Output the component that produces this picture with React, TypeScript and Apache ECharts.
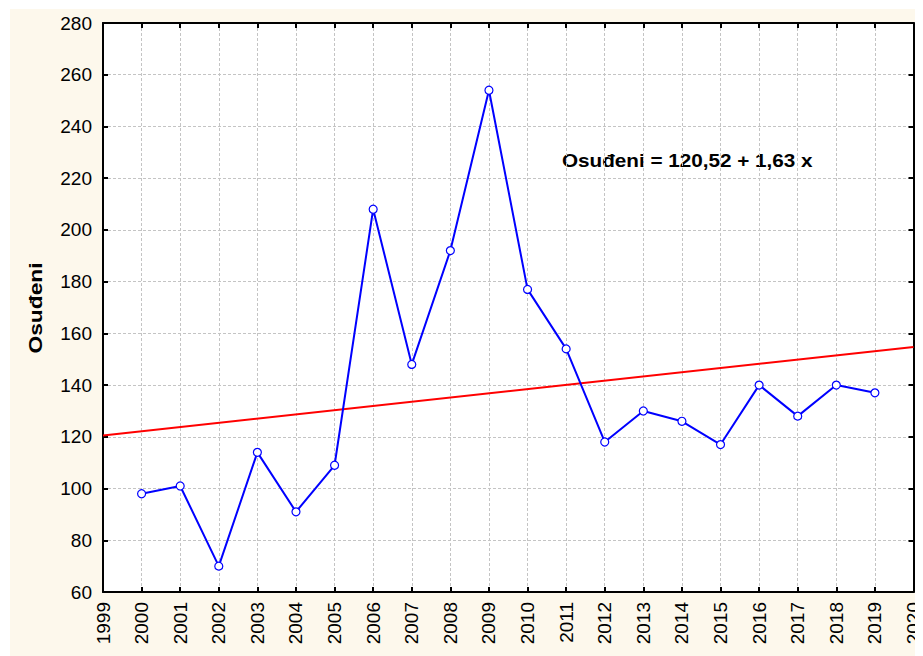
import React, { useEffect, useRef } from "react";
import * as echarts from "echarts";

const years = [2000, 2001, 2002, 2003, 2004, 2005, 2006, 2007, 2008, 2009, 2010, 2011, 2012, 2013, 2014, 2015, 2016, 2017, 2018, 2019];
const osudeni = [98, 101, 70, 114, 91, 109, 208, 148, 192, 254, 177, 154, 118, 130, 126, 117, 140, 128, 140, 137];
const fitIntercept = 120.52;
const fitSlope = 1.63;
const xMin = 1999;
const xMax = 2020;
const yMin = 60;
const yMax = 280;
const equationLabel = "Osuđeni = 120,52 + 1,63 x";
const yName = "Osuđeni";

const FONT = "'Liberation Sans', Arial, sans-serif";

export default function App() {
  const ref = useRef<HTMLDivElement>(null);
  useEffect(() => {
    if (!ref.current) return;
    const chart = echarts.init(ref.current, null, { renderer: "svg" });
    const pts = years.map((y, i) => [y, osudeni[i]]);
    const fit = [
      [xMin, fitIntercept],
      [xMax, fitIntercept + fitSlope * (xMax - xMin)],
    ];
    const axisLine = { show: true, lineStyle: { color: "#000", width: 2 } };
    const tick = { show: true, inside: true, length: 5, lineStyle: { color: "#000", width: 2 } };
    chart.setOption({
      animation: false,
      backgroundColor: "transparent",
      grid: { left: 93, top: 14, right: 9, bottom: 64, containLabel: false, show: true, backgroundColor: "#fff", borderWidth: 0 },
      xAxis: [
        {
          type: "value",
          min: xMin,
          max: xMax,
          interval: 1,
          axisLine,
          axisTick: tick,
          axisLabel: { rotate: 90, fontSize: 19, color: "#000", fontFamily: FONT, margin: 10, formatter: (v: number) => String(v) },
          splitLine: { show: true, lineStyle: { color: "#c4c4c4", type: [3, 2], width: 1 } },
        },
        {
          type: "value",
          position: "top",
          min: xMin,
          max: xMax,
          interval: 1,
          axisLine,
          axisTick: tick,
          axisLabel: { show: false },
          splitLine: { show: false },
        },
      ],
      yAxis: [
        {
          type: "value",
          min: yMin,
          max: yMax,
          interval: 20,
          axisLine,
          axisTick: tick,
          axisLabel: { fontSize: 19, color: "#000", fontFamily: FONT, margin: 11 },
          splitLine: { show: true, lineStyle: { color: "#c4c4c4", type: [3, 2], width: 1 } },
        },
        {
          type: "value",
          position: "right",
          min: yMin,
          max: yMax,
          interval: 20,
          axisLine,
          axisTick: tick,
          axisLabel: { show: false },
          splitLine: { show: false },
        },
      ],
      graphic: [
        {
          type: "text",
          x: 552,
          y: 151.5,
          scaleX: 1.15,
          style: { text: equationLabel, fontSize: 18, fontWeight: "bold", fill: "#000", fontFamily: FONT, textVerticalAlign: "middle", textAlign: "left" },
        },
        {
          type: "text",
          x: 25,
          y: 299,
          rotation: Math.PI / 2,
          scaleX: 1.2,
          style: { text: yName, fontSize: 19, fontWeight: "bold", fill: "#000", fontFamily: FONT, textVerticalAlign: "middle", textAlign: "center" },
        },
      ],
      series: [
        {
          type: "line",
          data: fit,
          symbol: "none",
          lineStyle: { color: "#ff0000", width: 2 },
          z: 2,
        },
        {
          type: "line",
          data: pts,
          symbol: "circle",
          symbolSize: 8,
          itemStyle: { color: "#fff", borderColor: "#0000ff", borderWidth: 1.2 },
          lineStyle: { color: "#0000ff", width: 2 },
          z: 3,
        },
      ],
    });
    return () => chart.dispose();
  }, []);
  return (
    <div style={{ marginLeft: 2, marginTop: 1, width: 913, height: 647, background: "#fdf8ec" }}>
      <div ref={ref} style={{ width: 913, height: 647 }} />
    </div>
  );
}
